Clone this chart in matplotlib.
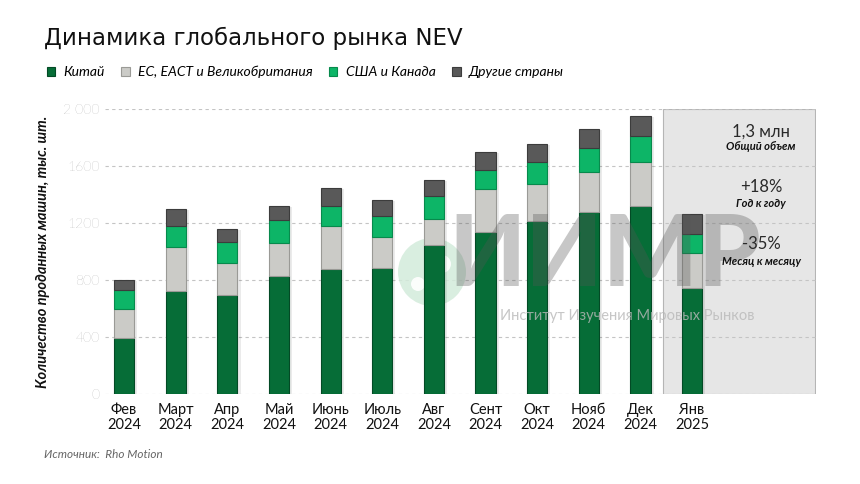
import matplotlib
matplotlib.use("Agg")
import matplotlib.pyplot as plt
from matplotlib.patches import Rectangle, Circle
import numpy as np

plt.rcParams['font.family'] = ['Lato', 'DejaVu Sans']

months = ["Фев\n2024", "Март\n2024", "Апр\n2024", "Май\n2024", "Июнь\n2024", "Июль\n2024",
          "Авг\n2024", "Сент\n2024", "Окт\n2024", "Нояб\n2024", "Дек\n2024", "Янв\n2025"]
china = [393, 725, 697, 830, 877, 886, 1048, 1141, 1216, 1279, 1319, 746]
eu = [208, 307, 222, 230, 304, 220, 180, 302, 260, 283, 309, 248]
usa = [131, 151, 152, 163, 143, 143, 166, 133, 156, 169, 183, 133]
other = [72, 117, 87, 101, 122, 117, 108, 122, 126, 131, 142, 136]
series_names = ["Китай", "ЕС, ЕАСТ и Великобритания", "США и Канада", "Другие страны"]
colors = ["#066d37", "#cbcbc7", "#0db567", "#595959"]
edges = ["#034a25", "#9a9a96", "#078a4c", "#3c3c3c"]
ytick_vals = [0, 400, 800, 1200, 1600, 2000]
ytick_labels = ["0", "400", "800", "1200", "1600", "2 000"]
box_values = ["1,3 млн", "+18%", "-35%"]
box_labels = ["Общий объем", "Год к году", "Месяц к месяцу"]

fig = plt.figure(figsize=(8.6, 4.84), dpi=100)
ax = fig.add_axes([105/860, 1-394.3/484, (816-105)/860, (394.3-109.3)/484])

x = np.arange(len(months))
xlim = (-0.37, 13.4)
ax.set_xlim(*xlim)
ax.set_ylim(0, 2000)

# highlight box
ax.add_patch(Rectangle((10.44, 0), xlim[1]-10.44-0.01, 2000, facecolor="#e6e6e6",
                       edgecolor="#b5b5b5", linewidth=0.8, zorder=0.5))

for v in ytick_vals:
    ax.axhline(v, color="#c4c4c4", linewidth=0.8, linestyle=(0, (3, 3)), zorder=1)

# watermark logo (globe)
cx, cy = 432, 484 - 272
logo = Circle((cx, cy), 34, transform=None, facecolor="#d3ebdb", edgecolor="none",
              alpha=0.85, zorder=1.5)
ax.add_artist(logo)
for (dx, dy, r) in [(10, 8, 9), (-14, -12, 7)]:
    ax.add_artist(Circle((cx + dx, cy + dy), r, transform=None, facecolor="white",
                         edgecolor="none", alpha=0.9, zorder=1.6))

bottom = np.zeros(len(months))
w = 0.39
for vals, c, ec, name in zip([china, eu, usa, other], colors, edges, series_names):
    vals = np.array(vals)
    ax.bar(x + 0.06, vals, w, bottom=bottom - 8, color="#000000", alpha=0.08, zorder=2, linewidth=0)
    ax.bar(x, vals, w, bottom=bottom, color=c, edgecolor=ec, linewidth=0.8, zorder=3, label=name)
    bottom += vals

# watermark text over bars
fig.text(605/860, 1-258/484, "ИИМР", fontsize=72, fontweight="black", color="#555555",
         alpha=0.33, ha="center", va="center", zorder=10)
fig.text(627/860, 1-316/484, "Институт Изучения Мировых Рынков", fontsize=10.5,
         color="#b8b8b8", alpha=0.8, ha="center", va="center", zorder=10)

ax.set_xticks(x)
ax.set_xticklabels(months, fontsize=10.5, color="#111111", linespacing=1.15)
ax.set_yticks(ytick_vals)
ax.set_yticklabels(ytick_labels, fontsize=10, color="#8c8c8c", fontweight="light")
ax.tick_params(axis="both", length=0, pad=4)
ax.tick_params(axis="x", pad=6)
for s in ax.spines.values():
    s.set_visible(False)

ax.set_ylabel("Количество проданных машин, тыс. шт.", fontsize=10.5, fontstyle="italic",
              fontweight="bold", color="#111111", labelpad=9)

# box texts
ys_val = [131.7, 186.7, 244]
ys_lab = [146.7, 203.3, 261.7]
for val, lab, yv, yl in zip(box_values, box_labels, ys_val, ys_lab):
    fig.text(761/860, 1-yv/484, val, fontsize=12, color="#2a2a2a", ha="center", va="center",
             zorder=12)
    fig.text(761/860, 1-yl/484, lab, fontsize=8, color="#111111", ha="center", va="center",
             fontweight="bold", fontstyle="italic", zorder=12)

fig.text(44/860, 1-38/484, "Динамика глобального рынка NEV", fontsize=16.5, color="#111111",
         ha="left", va="center", family="DejaVu Sans")

handles, labels = ax.get_legend_handles_labels()
leg = fig.legend(handles, labels, loc="center left", bbox_to_anchor=(34/860, 1-72/484), ncol=4,
                 frameon=False, handlelength=0.6, handleheight=0.6,
                 handletextpad=0.6, columnspacing=1.2, prop={"style": "italic", "size": 10})

fig.text(44/860, 1-455/484, "Источник:  Rho Motion", fontsize=8.5, color="#666666",
         fontstyle="italic", ha="left", va="center")

fig.savefig("out.png", dpi=100)
